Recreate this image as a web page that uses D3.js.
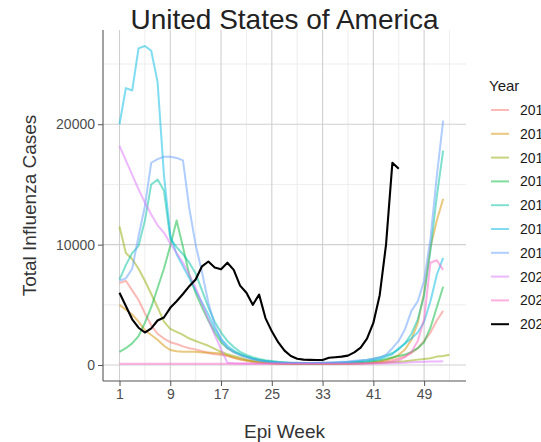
<!DOCTYPE html>
<html>
<head>
<meta charset="utf-8">
<script src="https://cdn.jsdelivr.net/npm/d3@7"></script>
<style>
  html, body { margin: 0; padding: 0; background: #fff; }
  #chart { width: 541px; height: 442px; overflow: hidden; }
  text { font-family: "Liberation Sans", Arial, sans-serif; }
</style>
</head>
<body>
<div id="chart"></div>
<script>
'use strict';

const W = 541, H = 442;
const PANEL = { left: 103, right: 466, top: 30, bottom: 381 };

const years = ['2013', '2014', '2015', '2016', '2017', '2018', '2019', '2020', '2021', '2022'];
const colors = ['#F8766D', '#D39200', '#93AA00', '#00BA38', '#00C19F', '#00B9E3', '#619CFF', '#DB72FB', '#FF61C3', '#000000'];

const xTicks = [1, 9, 17, 25, 33, 41, 49];
const xMinor = [5, 13, 21, 29, 37, 45, 53];
const yTicks = [0, 10000, 20000];
const yMinor = [5000, 15000, 25000];

// weekly totals, week 1 first
const cases2013 = [6800, 7000, 6200, 5400, 4300, 3300, 2600, 2200, 1900, 1750,
  1550, 1400, 1300, 1150, 1000, 900, 850, 750, 620, 500,
  400, 320, 250, 200, 160, 130, 110, 100, 90, 90,
  85, 85, 90, 90, 95, 100, 110, 120, 140, 170,
  200, 250, 320, 420, 550, 750, 1000, 1400, 2000, 2700, 3700, 4500];
const cases2014 = [5000, 4600, 4200, 3600, 2900, 2500, 2100, 1600, 1250, 1150,
  1100, 1100, 1100, 1050, 1050, 1000, 950, 800, 600, 450,
  350, 260, 200, 160, 130, 110, 100, 90, 85, 80,
  80, 80, 85, 90, 95, 100, 110, 130, 150, 180,
  230, 300, 420, 600, 850, 1300, 2100, 3500, 6000, 9800, 12000, 13800];
const cases2015 = [11500, 9300, 8800, 8000, 7000, 5900, 4800, 3600, 3000, 2750,
  2500, 2200, 2000, 1800, 1600, 1350, 1100, 900, 750, 600,
  450, 330, 250, 190, 150, 120, 100, 90, 80, 80,
  80, 80, 85, 90, 95, 100, 110, 120, 130, 150,
  170, 190, 220, 250, 280, 320, 380, 450, 500, 560, 700, 750, 850];
const cases2016 = [1100, 1400, 1800, 2400, 3500, 4800, 6400, 8000, 9900, 12000,
  9800, 7500, 6000, 4800, 3700, 2700, 1900, 1400, 1100, 880,
  700, 530, 420, 330, 270, 220, 180, 160, 150, 140,
  140, 140, 150, 160, 170, 180, 200, 220, 250, 280,
  330, 400, 500, 620, 750, 870, 1100, 1400, 1900, 3100, 4800, 6500];
const cases2017 = [7100, 8300, 9300, 9900, 12000, 15000, 15400, 14500, 10500, 9800,
  9200, 8500, 7600, 6200, 4800, 3600, 2700, 2000, 1500, 1100,
  850, 650, 500, 400, 330, 270, 230, 200, 190, 180,
  180, 180, 190, 200, 210, 230, 260, 300, 350, 420,
  520, 650, 800, 1000, 1300, 1800, 2600, 3800, 5800, 9500, 14000, 17800];
const cases2018 = [20000, 23000, 22800, 26300, 26500, 26100, 23500, 15800, 10800, 9200,
  8200, 7200, 6200, 5200, 4200, 3000, 2200, 1600, 1200, 900,
  700, 520, 400, 320, 260, 220, 190, 170, 160, 150,
  150, 150, 160, 170, 180, 200, 220, 250, 280, 320,
  400, 500, 700, 900, 1400, 1800, 2200, 2700, 3600, 5300, 7500, 8900];
const cases2019 = [7000, 7200, 8000, 10700, 13200, 16800, 17100, 17300, 17300, 17200,
  17000, 13000, 10000, 7700, 5200, 3300, 2100, 1400, 1050, 800,
  620, 480, 380, 300, 250, 220, 200, 190, 180, 180,
  180, 190, 200, 220, 240, 270, 300, 350, 400, 450,
  520, 620, 850, 1400, 2000, 3000, 4500, 5300, 7000, 10500, 15700, 20300];
const cases2020 = [18200, 17000, 15800, 14600, 13500, 12500, 11600, 11000, 10100, 9300,
  8500, 7500, 6400, 5100, 3800, 2500, 1300, 200, 150, 130,
  120, 120, 120, 120, 120, 120, 120, 120, 120, 120,
  120, 120, 120, 120, 120, 120, 120, 120, 120, 120,
  130, 130, 140, 150, 170, 200, 230, 260, 280, 300, 300, 320];
const cases2021 = [100, 100, 100, 100, 100, 100, 100, 100, 100, 100,
  100, 100, 100, 100, 100, 100, 100, 100, 100, 100,
  100, 100, 100, 100, 100, 100, 100, 100, 100, 100,
  100, 100, 100, 100, 100, 100, 100, 100, 110, 130,
  150, 180, 220, 280, 400, 650, 1100, 2000, 3800, 8500, 8700, 7900];
const cases2022 = [6000, 4900, 3800, 3100, 2700, 3050, 3700, 3950, 4750, 5300,
  5900, 6550, 7100, 8200, 8600, 8100, 7950, 8500, 7900, 6600,
  6000, 5000, 5850, 3900, 2800, 1900, 1200, 750, 520, 450,
  430, 420, 420, 600, 650, 700, 780, 1050, 1450, 2200,
  3500, 5800, 10000, 16800, 16300];

const allCases = [cases2013, cases2014, cases2015, cases2016, cases2017,
  cases2018, cases2019, cases2020, cases2021, cases2022];

const series = years.map((year, i) => ({
  year,
  color: colors[i],
  values: allCases[i].map((v, j) => ({ week: j + 1, value: v })),
}));

const maxWeek = d3.max(series, s => s.values.length);
const maxVal = d3.max(series, s => d3.max(s.values, d => d.value));
const xPad = (maxWeek - 1) * 0.05;
const yPad = maxVal * 0.05;

const x = d3.scaleLinear()
  .domain([1 - xPad, maxWeek + xPad])
  .range([PANEL.left, PANEL.right]);

const y = d3.scaleLinear()
  .domain([-yPad, maxVal + yPad])
  .range([PANEL.bottom, PANEL.top]);

const svg = d3.select('#chart')
  .append('svg')
  .attr('width', W)
  .attr('height', H);

// grid
const grid = svg.append('g').attr('class', 'grid');
yMinor.forEach(v => grid.append('line')
  .attr('x1', PANEL.left).attr('x2', PANEL.right)
  .attr('y1', y(v)).attr('y2', y(v))
  .attr('stroke', '#e8e8e8').attr('stroke-width', 0.8));
xMinor.forEach(v => grid.append('line')
  .attr('x1', x(v)).attr('x2', x(v))
  .attr('y1', PANEL.top).attr('y2', PANEL.bottom)
  .attr('stroke', '#e8e8e8').attr('stroke-width', 0.8));
yTicks.forEach(v => grid.append('line')
  .attr('x1', PANEL.left).attr('x2', PANEL.right)
  .attr('y1', y(v)).attr('y2', y(v))
  .attr('stroke', '#d0d0d0').attr('stroke-width', 1.1));
xTicks.forEach(v => grid.append('line')
  .attr('x1', x(v)).attr('x2', x(v))
  .attr('y1', PANEL.top).attr('y2', PANEL.bottom)
  .attr('stroke', '#d0d0d0').attr('stroke-width', 1.1));

// lines
const lineGen = d3.line()
  .x(d => x(d.week))
  .y(d => y(d.value));

series.forEach(s => {
  const isCurrent = s.year === '2022';
  svg.append('path')
    .datum(s.values)
    .attr('fill', 'none')
    .attr('stroke', s.color)
    .attr('stroke-opacity', isCurrent ? 1 : 0.5)
    .attr('stroke-width', isCurrent ? 2.1 : 2)
    .attr('stroke-linejoin', 'round')
    .attr('d', lineGen);
});

// axes
const xAxis = svg.append('g')
  .attr('transform', `translate(0,${PANEL.bottom})`)
  .call(d3.axisBottom(x).tickValues(xTicks).tickSize(5).tickSizeOuter(0).tickPadding(3));
const yAxis = svg.append('g')
  .attr('transform', `translate(${PANEL.left},0)`)
  .call(d3.axisLeft(y).tickValues(yTicks).tickSize(5).tickSizeOuter(0).tickPadding(3).tickFormat(d3.format('d')));

[xAxis, yAxis].forEach(ax => {
  ax.select('.domain').attr('stroke', '#555').attr('stroke-width', 1.1);
  ax.selectAll('.tick line').attr('stroke', '#555').attr('stroke-width', 1);
  ax.selectAll('.tick text')
    .attr('fill', '#4d4d4d')
    .style('font-size', '14px')
    .style('font-family', '"Liberation Sans", Arial, sans-serif');
});
// full-length axis lines
xAxis.select('.domain').attr('d', `M${PANEL.left},0H${PANEL.right}`);
yAxis.select('.domain').attr('d', `M0,${PANEL.top}V${PANEL.bottom}`);

// titles
svg.append('text')
  .attr('x', (PANEL.left + PANEL.right) / 2)
  .attr('y', 29)
  .attr('text-anchor', 'middle')
  .attr('fill', '#222')
  .style('font-size', '28px')
  .text('United States of America');

svg.append('text')
  .attr('x', (PANEL.left + PANEL.right) / 2)
  .attr('y', 438)
  .attr('text-anchor', 'middle')
  .attr('fill', '#333')
  .style('font-size', '19px')
  .text('Epi Week');

svg.append('text')
  .attr('transform', `translate(36,${(PANEL.top + PANEL.bottom) / 2}) rotate(-90)`)
  .attr('text-anchor', 'middle')
  .attr('fill', '#333')
  .style('font-size', '19px')
  .text('Total Influenza Cases');

// legend (labels run past the right edge, as in the source)
const legend = svg.append('g').attr('transform', 'translate(489,0)');
legend.append('text')
  .attr('x', 0).attr('y', 91)
  .attr('fill', '#1a1a1a')
  .style('font-size', '15px')
  .text('Year');

series.forEach((s, i) => {
  const ky = 110 + i * 23.8;
  const isCurrent = s.year === '2022';
  legend.append('line')
    .attr('x1', 2).attr('x2', 20)
    .attr('y1', ky).attr('y2', ky)
    .attr('stroke', s.color)
    .attr('stroke-opacity', isCurrent ? 1 : 0.5)
    .attr('stroke-width', 2);
  legend.append('text')
    .attr('x', 31).attr('y', ky + 5)
    .attr('fill', '#1a1a1a')
    .style('font-size', '14px')
    .text(s.year);
});
</script>
</body>
</html>
